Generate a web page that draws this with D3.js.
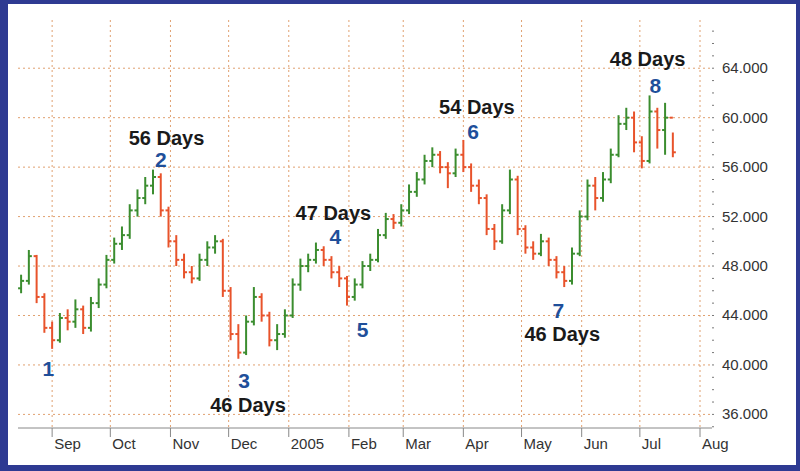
<!DOCTYPE html>
<html><head><meta charset="utf-8">
<script src="https://cdn.jsdelivr.net/npm/d3@7"></script>
<style>body{margin:0;background:#fff}</style>
</head><body><div id="vis"></div>
<script>
// bars every 4 calendar days starting Aug 16 2004
const START = new Date(2004, 7, 16);
const STEP_DAYS = 4;
const opens = [46.2,46.8,48.8,45.5,43,42,43.8,43.5,44.5,43,45,46.5,48.5,49.8,50.5,52.5,53.5,54.5,55.2,52.5,
  50,48.5,47.5,47,48.5,49.5,50,46,42.5,41,43.5,45.5,44,42,42.5,44,46.5,48,48.5,49.3,
  48.5,47.5,47,45.5,46.5,48,48.5,50.5,51.8,51.5,52.5,54,55,56.5,57,56,55.5,57,56,54.5,
  53.5,51,50,52.5,55,51,49.5,49,50,48.5,47.5,46.8,49,52,54.5,53.5,55,57,59.5,60,
  58,56.5,60.5,59,60];
const closes = [46.8,48.8,45.5,43,42,43.8,43.5,44.5,43,45,46.5,48.5,49.8,50.5,52.5,53.5,54.5,55.2,52.5,50,
  48.5,47.5,47,48.5,49.5,50,46,42.5,41,43.5,45.5,44,42,42.5,44,46.5,48,48.5,49.3,48.5,
  47.5,47,45.5,46.5,48,48.5,50.5,51.8,51.5,52.5,54,55,56.5,57,56,55.5,57,56,54.5,53.5,
  51,50,52.5,55,51,49.5,49,50,48.5,47.5,46.8,49,52,54.5,53.5,55,57,59.5,60,58,
  56.5,60.5,59,60,57.2];
const highs = [47.3,49.3,48.9,45.8,43.5,44.2,44.5,45.3,44.8,45.5,47,48.9,50.3,51.2,53,54.2,55.2,55.8,55.5,52.8,
  50.5,49,48,49,50,50.5,50.2,46.3,43.3,44,46.3,45.8,44.3,43.3,44.5,47,48.6,49,49.9,49.6,
  48.8,48,47.2,47,48.4,49,51,52.3,52.2,53,54.6,55.6,57,57.6,57.3,56.4,57.5,58.2,56.3,55,
  53.8,51.4,53,55.8,55.3,51.3,50,50.6,50.3,48.8,48,49.5,52.5,55,55.2,55.6,57.5,60.2,60.8,60.5,
  58.5,61.8,60.8,61.2,58.8];
const lows = [45.8,46.5,45,42.6,41.3,41.8,42.8,43,42.5,42.7,44.6,46.2,48.2,49.3,50.2,52,53,53.8,52,49.5,
  48,47,46.6,46.8,48,49,45.5,42,40.5,40.8,43.2,43.5,41.5,41.2,42.2,43.8,46,47.5,48.2,48,
  47,46.3,44.8,45.2,46.2,47.6,48.3,50.2,51,51.2,52.2,53.6,54.6,56,55.5,54.3,55.2,55.6,54,53,
  50.5,49.3,49.8,52.2,50.5,49,48.5,48.8,48,47,46.3,46.5,48.8,51.7,52.5,53.2,54.7,56.8,59,57.2,
  55.9,56.3,57.5,57,56.8];

const yTicks = [36,40,44,48,52,56,60,64];
const monthTicks = [new Date(2004,8,1),new Date(2004,9,1),new Date(2004,10,1),new Date(2004,11,1),
  new Date(2005,0,1),new Date(2005,1,1),new Date(2005,2,1),new Date(2005,3,1),new Date(2005,4,1),
  new Date(2005,5,1),new Date(2005,6,1),new Date(2005,7,1)];
const monthNames = ["Sep","Oct","Nov","Dec","2005","Feb","Mar","Apr","May","Jun","Jul","Aug"];

// cycle labels: [text, date, price, kind]
const labels = [
  ["1", new Date(2004,7,30), 39.1, "num"],
  ["2", new Date(2004,9,27), 56.0, "num"],
  ["56 Days", new Date(2004,9,30), 57.8, "days"],
  ["3", new Date(2004,11,9), 38.1, "num"],
  ["46 Days", new Date(2004,11,11), 36.2, "days"],
  ["4", new Date(2005,0,25), 49.8, "num"],
  ["47 Days", new Date(2005,0,24), 51.7, "days"],
  ["5", new Date(2005,1,8), 42.3, "num"],
  ["6", new Date(2005,3,6), 58.3, "num"],
  ["54 Days", new Date(2005,3,8), 60.3, "days"],
  ["7", new Date(2005,4,20), 43.8, "num"],
  ["46 Days", new Date(2005,4,22), 41.9, "days"],
  ["8", new Date(2005,6,9), 62.0, "num"],
  ["48 Days", new Date(2005,6,5), 64.2, "days"]
];

const W = 800, H = 471;
const L = 18, R = 712, T = 20, B = 428;
const svg = d3.select("#vis").append("svg").attr("width", W).attr("height", H);

svg.append("rect").attr("width", W).attr("height", H).attr("fill", "#2e3a92");
svg.append("rect").attr("x", 8).attr("y", 4).attr("width", 788).attr("height", 461).attr("fill", "#fff");

const x = d3.scaleTime().domain([new Date(2004,7,1), new Date(2005,7,1)]).range([-8, 700]);
const y = d3.scaleLinear().domain([34.9, 67.9]).range([B, T]);

const bars = opens.map((o, i) => ({
  date: d3.timeDay.offset(START, i * STEP_DAYS), o, c: closes[i], h: highs[i], l: lows[i]
}));

// grid
svg.append("g").selectAll("line").data(yTicks).join("line")
  .attr("x1", L).attr("x2", R).attr("y1", d => y(d)).attr("y2", d => y(d))
  .attr("stroke", "#e0a070").attr("stroke-dasharray", "2,3").attr("stroke-width", 1);
svg.append("g").selectAll("line").data(monthTicks).join("line")
  .attr("x1", d => x(d)).attr("x2", d => x(d)).attr("y1", T).attr("y2", B)
  .attr("stroke", "#e0a070").attr("stroke-dasharray", "2,3").attr("stroke-width", 1);

// x axis
svg.append("line").attr("x1", L).attr("x2", R).attr("y1", B).attr("y2", B).attr("stroke", "#888");
svg.append("g").selectAll("line").data(monthTicks).join("line")
  .attr("x1", d => x(d)).attr("x2", d => x(d)).attr("y1", B).attr("y2", B + 9).attr("stroke", "#888");
svg.append("g").selectAll("text").data(monthTicks).join("text")
  .attr("x", d => x(d) + 2).attr("y", B + 21)
  .attr("font-family", "Liberation Sans, Arial, sans-serif").attr("font-size", 15).attr("fill", "#333")
  .text((d, i) => monthNames[i]);

// y axis (right)
const minor = d3.range(35, 68, 1);
svg.append("g").selectAll("line").data(minor).join("line")
  .attr("x1", R).attr("x2", R + 2).attr("y1", d => y(d)).attr("y2", d => y(d)).attr("stroke", "#777");
svg.append("g").selectAll("text").data(yTicks).join("text")
  .attr("x", R + 10).attr("y", d => y(d) + 5)
  .attr("font-family", "Liberation Sans, Arial, sans-serif").attr("font-size", 15).attr("fill", "#333")
  .text(d => d + ".000");

// OHLC bars
const g = svg.append("g");
bars.forEach(d => {
  const col = d.c >= d.o ? "#3b8d2f" : "#e8532b";
  const cx = x(d.date);
  g.append("line").attr("x1", cx).attr("x2", cx).attr("y1", y(d.h)).attr("y2", y(d.l))
    .attr("stroke", col).attr("stroke-width", 2);
  g.append("line").attr("x1", cx - 3).attr("x2", cx).attr("y1", y(d.o)).attr("y2", y(d.o))
    .attr("stroke", col).attr("stroke-width", 2);
  g.append("line").attr("x1", cx).attr("x2", cx + 3).attr("y1", y(d.c)).attr("y2", y(d.c))
    .attr("stroke", col).attr("stroke-width", 2);
});

// labels
svg.append("g").selectAll("text").data(labels).join("text")
  .attr("x", d => x(d[1])).attr("y", d => y(d[2]))
  .attr("text-anchor", "middle")
  .attr("font-family", "Liberation Sans, Arial, sans-serif").attr("font-weight", "bold")
  .attr("font-size", d => d[3] === "num" ? 21 : 20)
  .attr("fill", d => d[3] === "num" ? "#1f4f9a" : "#1a1a1a")
  .text(d => d[0]);
</script>
</body></html>
